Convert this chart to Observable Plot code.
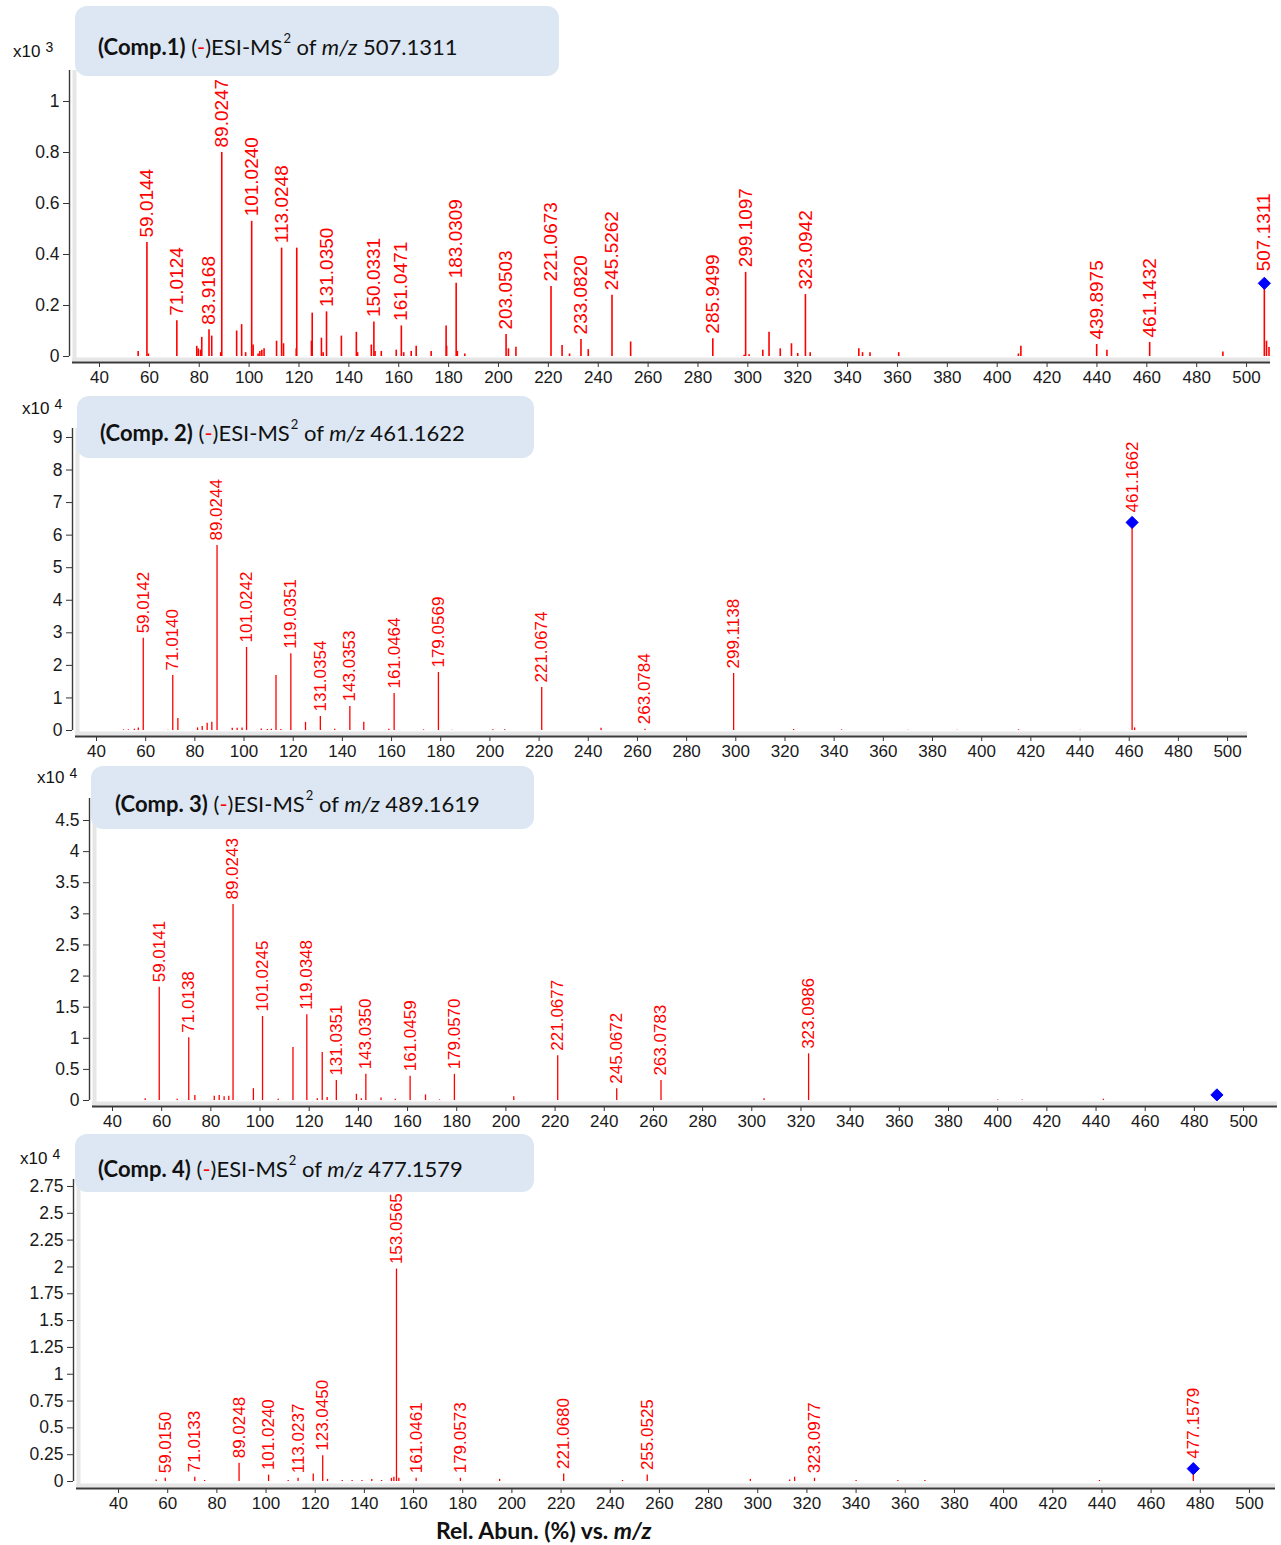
<!DOCTYPE html>
<html><head><meta charset="utf-8">
<script src="https://cdn.jsdelivr.net/npm/d3@7"></script>
<script src="https://cdn.jsdelivr.net/npm/@observablehq/plot@0.6"></script>
<style>
body{margin:0;background:#fff;width:1281px;height:1545px;position:relative;overflow:hidden;font-family:"Liberation Sans",Arial,sans-serif}
.panel{position:absolute;left:0;width:1281px;z-index:1}
.box{position:absolute;background:#dce7f3;border-radius:12px;font-family:Lato,"Open Sans",sans-serif;font-size:22px;color:#111;display:flex;align-items:center;z-index:2;box-sizing:border-box;white-space:nowrap;padding-top:11px}
.box .neg{color:#ff0000}
.box sup{font-size:13px;vertical-align:12px;line-height:0;margin-left:1px}
.mult{position:absolute;font-size:17px;color:#111;z-index:2;white-space:nowrap}
.mult sup{font-size:14px;margin-left:5px;vertical-align:5px;line-height:0}
.xtitle{position:absolute;font-family:Lato,"Open Sans",sans-serif;font-weight:bold;font-size:23px;color:#111;z-index:2;white-space:nowrap}
</style></head><body>
<script>
// ---------------- DATA ----------------
const xTicks = [40,60,80,100,120,140,160,180,200,220,240,260,280,300,320,340,360,380,400,420,440,460,480,500];

// Panel 1 (Comp.1) intensity x10^3
const p1Mz  = [55.5,59.0144,59.6,71.0124,79.0,79.6,80.5,81.0,83.9168,85.0,88.6,89.0247,95.0,97.0,98.6,101.0240,101.6,103.6,104.3,105.1,106.0,111.0,113.0248,113.8,118.9,119.1,125.0,125.3,129.0,129.7,131.0350,137.0,143.0,143.5,149.0,150.0331,150.5,153.0,159.0,161.0471,162.0,165.0,167.0,173.0,179.0,179.2,183.0309,183.5,186.5,203.0503,204.0,207.0,221.0673,225.5,228.5,233.0820,236.0,245.5262,253.0,285.9499,298.5,299.1097,300.5,306.0,308.5,313.0,317.5,320.0,323.0942,325.0,344.5,346.0,349.0,360.5,408.5,409.5,439.8975,444.0,461.1432,490.5,508.0,509.0];
const p1Int = [0.02,0.447,0.01,0.14,0.04,0.03,0.025,0.075,0.105,0.08,0.015,0.80,0.10,0.125,0.015,0.53,0.045,0.01,0.02,0.025,0.03,0.06,0.425,0.05,0.03,0.425,0.06,0.17,0.072,0.015,0.175,0.08,0.095,0.015,0.045,0.135,0.02,0.02,0.025,0.12,0.015,0.02,0.04,0.02,0.12,0.04,0.287,0.02,0.01,0.086,0.03,0.036,0.275,0.043,0.01,0.067,0.027,0.24,0.057,0.07,0.005,0.33,0.007,0.025,0.095,0.03,0.05,0.012,0.243,0.015,0.03,0.015,0.015,0.015,0.01,0.04,0.047,0.025,0.055,0.018,0.06,0.035];
const p1Lab = ["","59.0144","","71.0124","","","","","83.9168","","","89.0247","","","","101.0240","","","","","","","113.0248","","","","","","","","131.0350","","","","","150.0331","","","","161.0471","","","","","","","183.0309","","","203.0503","","","221.0673","","","233.0820","","245.5262","","285.9499","","299.1097","","","","","","","323.0942","","","","","","","","439.8975","","461.1432","","",""];
const p1Prec = {mz:507.1311, v:0.287, label:"507.1311"};
const p1YTicks = [0,0.2,0.4,0.6,0.8,1];

// Panel 2 (Comp. 2) intensity x10^4
const p2Mz  = [51.0,53.0,55.4,57.0,59.0142,69.0,71.0140,73.1,81.1,83.0,85.0,86.9,89.0244,95.2,97.2,99.2,101.0242,107.0,109.5,111.1,113.0,115.0,119.0351,125.0,131.0354,136.9,143.0353,148.7,158.9,161.0464,173.0,179.0569,184.6,201.2,206.0,221.0674,245.2,263.0784,299.1138,323.5,343.0,370.0,390.0,415.0,440.0,462.2];
const p2Int = [0.02,0.02,0.04,0.08,2.83,0.01,1.69,0.37,0.08,0.12,0.22,0.25,5.68,0.07,0.07,0.08,2.55,0.05,0.03,0.04,1.69,0.03,2.36,0.25,0.43,0.04,0.74,0.25,0.04,1.14,0.02,1.78,0.01,0.02,0.02,1.32,0.07,0.04,1.75,0.03,0.02,0.01,0.01,0.02,0.01,0.08];
const p2Lab = ["","","","","59.0142","","71.0140","","","","","","89.0244","","","","101.0242","","","","","","119.0351","","131.0354","","143.0353","","","161.0464","","179.0569","","","","221.0674","","263.0784","299.1138","","","","","","",""];
const p2Prec = {mz:461.1662, v:6.39, label:"461.1662"};
const p2YTicks = [0,1,2,3,4,5,6,7,8,9];

// Panel 3 (Comp. 3) intensity x10^4
const p3Mz  = [53.3,59.0141,66.3,71.0138,73.5,81.4,83.4,85.4,87.3,89.0243,97.3,101.0245,107.4,113.4,119.0348,123.3,125.3,127.3,131.0351,139.2,141.2,143.0350,149.2,155.0,161.0459,167.3,173.0,179.0570,203.2,221.0677,245.0672,263.0783,305.0,323.0986,400.0,410.0,443.0];
const p3Int = [0.03,1.82,0.02,1.01,0.08,0.07,0.08,0.06,0.07,3.15,0.19,1.35,0.02,0.85,1.38,0.03,0.77,0.05,0.32,0.10,0.03,0.42,0.04,0.02,0.39,0.09,0.01,0.42,0.06,0.72,0.19,0.32,0.03,0.75,0.01,0.01,0.02];
const p3Lab = ["","59.0141","","71.0138","","","","","","89.0243","","101.0245","","","119.0348","","","","131.0351","","","143.0350","","","161.0459","","","179.0570","","221.0677","245.0672","263.0783","","323.0986","","",""];
const p3Prec = {mz:489.1619, v:0.09, label:""};
const p3YTicks = [0,0.5,1,1.5,2,2.5,3,3.5,4,4.5];

// Panel 4 (Comp. 4) intensity x10^4
const p4Mz  = [55.3,59.0150,71.0133,75.0,89.0248,101.0240,109.0,113.0237,119.2,123.0450,125.0,131.0,135.0,139.0,143.0,147.0,151.0,152.0,153.0565,154.0,161.0461,179.0573,195.0,221.0680,245.0,255.0525,297.0,313.0,315.0,323.0977,340.0,357.0,368.0,439.0];
const p4Int = [0.015,0.03,0.04,0.01,0.17,0.06,0.01,0.03,0.07,0.24,0.02,0.01,0.01,0.01,0.02,0.01,0.03,0.04,1.98,0.03,0.03,0.03,0.02,0.07,0.01,0.06,0.02,0.015,0.04,0.03,0.01,0.01,0.01,0.01];
const p4Lab = ["","59.0150","71.0133","","89.0248","101.0240","","113.0237","","123.0450","","","","","","","","","153.0565","","161.0461","179.0573","","221.0680","","255.0525","","","","323.0977","","","",""];
const p4Prec = {mz:477.1579, v:0.12, label:"477.1579"};
const p4YTicks = [0,0.25,0.5,0.75,1,1.25,1.5,1.75,2,2.25,2.5,2.75];

// ---------------- LAYOUT ----------------
const panels = [
  {mz:p1Mz, val:p1Int, lab:p1Lab, prec:p1Prec, yTicks:p1YTicks, exp:"3",
   top:0, height:395, ml:72, mr:11, mt:70, mb:33, xd:[29.17,509.6], yd:[-0.0235,1.1216], fs:19, sw:1.6, precDy:-12,
   box:{left:75, top:6, w:484, h:70, pad:23}, title:["(Comp.1)","507.1311"], mult:{left:13, top:42}},
  {mz:p2Mz, val:p2Int, lab:p2Lab, prec:p2Prec, yTicks:p2YTicks, exp:"4",
   top:395, height:375, ml:75, mr:34, mt:33, mb:34, xd:[31.46,508.1], yd:[-0.184,9.275], fs:17, sw:1.3, precDy:-10,
   box:{left:77, top:396, w:457, h:62, pad:23}, title:["(Comp. 2)","461.1622"], mult:{left:22, top:399}},
  {mz:p3Mz, val:p3Int, lab:p3Lab, prec:p3Prec, yTicks:p3YTicks, exp:"4",
   top:770, height:370, ml:92, mr:4, mt:28, mb:34, xd:[31.87,513.8], yd:[-0.0964,4.854], fs:17, sw:1.3, precDy:-10,
   box:{left:91, top:766, w:443, h:63, pad:24}, title:["(Comp. 3)","489.1619"], mult:{left:37, top:768}},
  {mz:p4Mz, val:p4Int, lab:p4Lab, prec:p4Prec, yTicks:p4YTicks, exp:"4",
   top:1140, height:405, ml:76, mr:6, mt:39, mb:57, xd:[22.9,510.6], yd:[-0.065,2.815], fs:17, sw:1.3, precDy:-10,
   box:{left:75, top:1134, w:459, h:58, pad:23}, title:["(Comp. 4)","477.1579"], mult:{left:20, top:1149}}
];

function makePanel(p) {
  const peaks = p.mz.map((m, i) => ({mz: m, v: p.val[i], label: p.lab[i]}));
  const labelled = peaks.filter(d => d.label);
  const prec = [p.prec];
  const precLab = prec.filter(d => d.label);
  return Plot.plot({
    width: 1281, height: p.height,
    marginLeft: p.ml, marginRight: p.mr, marginTop: p.mt, marginBottom: p.mb,
    style: {background: "transparent", fontFamily: "'Liberation Sans', Arial, sans-serif", color: "#1a1a1a", overflow: "visible"},
    x: {domain: p.xd, label: null},
    y: {domain: p.yd, label: null},
    marks: [
      Plot.axisX({ticks: xTicks, tickSize: 5, tickPadding: 3, fontSize: 17, tickFormat: d => String(d), stroke: "#333", label: null}),
      Plot.axisY({ticks: p.yTicks, tickSize: 6, tickPadding: 4, dx: -3, fontSize: 17.5, tickFormat: d => String(d), stroke: "#333", label: null}),
      Plot.ruleY([p.yd[0]], {dy: -3, stroke: "#e6e6e6", strokeWidth: 4}),
      Plot.ruleX([p.xd[0]], {y1: p.yd[0], y2: p.yd[1], dx: 2, stroke: "#e6e6e6", strokeWidth: 4}),
      Plot.ruleY([p.yd[0]], {stroke: "#3a3a3a", strokeWidth: 1.8}),
      Plot.ruleX([p.xd[0]], {y1: 0, y2: p.yd[1], dx: -3, stroke: "#3a3a3a", strokeWidth: 1.4}),
      Plot.ruleX(peaks, {x: "mz", y1: 0, y2: "v", stroke: "#ff0000", strokeWidth: p.sw}),
      Plot.ruleX(prec, {x: "mz", y1: 0, y2: "v", stroke: "#ff0000", strokeWidth: p.sw}),
      Plot.text(labelled, {x: "mz", y: "v", text: "label", rotate: -90, textAnchor: "start", lineAnchor: "middle", dy: -5, fill: "#ff0000", fontSize: p.fs}),
      Plot.dot(prec, {x: "mz", y: "v", symbol: "diamond2", fill: "#0000ff", stroke: "#0000ff", strokeWidth: 1, r: 5.5}),
      Plot.text(precLab, {x: "mz", y: "v", text: "label", rotate: -90, textAnchor: "start", lineAnchor: "middle", dy: p.precDy, fill: "#ff0000", fontSize: p.fs})
    ]
  });
}

for (const p of panels) {
  const div = document.createElement("div");
  div.className = "panel";
  div.style.top = p.top + "px";
  div.style.height = p.height + "px";
  div.appendChild(makePanel(p));
  document.body.appendChild(div);

  const box = document.createElement("div");
  box.className = "box";
  Object.assign(box.style, {left: p.box.left + "px", top: p.box.top + "px", width: p.box.w + "px", height: p.box.h + "px", paddingLeft: p.box.pad + "px"});
  box.innerHTML = `<span><b>${p.title[0]}</b> (<span class="neg">-</span>)ESI-MS<sup>2</sup> of <i>m/z</i> ${p.title[1]}</span>`;
  document.body.appendChild(box);

  const m = document.createElement("div");
  m.className = "mult";
  Object.assign(m.style, {left: p.mult.left + "px", top: p.mult.top + "px"});
  m.innerHTML = `x10<sup>${p.exp}</sup>`;
  document.body.appendChild(m);
}

const xt = document.createElement("div");
xt.className = "xtitle";
Object.assign(xt.style, {left: "436px", top: "1516px"});
xt.innerHTML = "Rel. Abun. (%) vs. <i>m/z</i>";
document.body.appendChild(xt);
</script>
</body></html>
